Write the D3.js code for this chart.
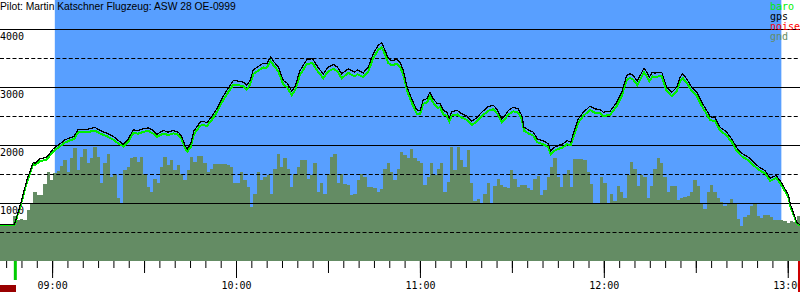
<!DOCTYPE html>
<html><head><meta charset="utf-8">
<script src="https://cdn.jsdelivr.net/npm/d3@7"></script>
<style>body{margin:0;background:#fff}svg{display:block}</style>
</head><body><svg id="c" width="800" height="300"></svg>
<script>
const title = "Pilot: Martin Katschner Flugzeug: ASW 28 OE-0999";
const legendNames = ["baro", "gps", "noise", "gnd"];
const legendColors = ["#00ee00", "#000000", "#ff0000", "#648c64"];
const yLabelTicks = [1000, 2000, 3000, 4000];
const yDashedTicks = [500, 1500, 2500, 3500];
const viewRange = ["08:43:00", "13:04:00"];
const taskWindow = ["09:00:53", "12:57:55"];
const takeoffTime = "08:48:00";
const landingTime = "13:03:50";
const noiseIntervals = [["08:43:00", "08:48:13"]];

const flightTimes = [
"08:43:00","08:47:44","08:49:45","08:51:43","08:53:52","08:54:25","08:56:03","08:58:14","09:00:23","09:02:35",
"09:04:13","09:05:50","09:07:08","09:08:33","09:11:17","09:13:59","09:15:38","09:17:49","09:19:58","09:21:36",
"09:23:14","09:24:52","09:26:29","09:28:07","09:29:45","09:31:23","09:33:01","09:34:08","09:36:17","09:37:55",
"09:39:32","09:41:10","09:42:17","09:43:22","09:44:07","09:45:13","09:46:18","09:47:11","09:48:15","09:49:20",
"09:50:26","09:52:04","09:53:42","09:55:20","09:56:58","09:59:07","10:00:45","10:02:23","10:03:29","10:04:34",
"10:05:38","10:07:16","10:08:55","10:10:01","10:11:19","10:12:24","10:13:48","10:15:26","10:16:44","10:18:10",
"10:19:15","10:20:53","10:23:04","10:24:53","10:26:51","10:28:29","10:30:07","10:31:45","10:33:03","10:34:29",
"10:36:38","10:38:49","10:39:34","10:41:32","10:43:10","10:44:48","10:46:26","10:47:32","10:48:37","10:49:41",
"10:50:48","10:52:26","10:53:30","10:54:35","10:55:53","10:57:19","10:58:57","11:00:02","11:01:06","11:02:13",
"11:03:17","11:04:22","11:05:41","11:06:34","11:07:38","11:08:44","11:09:35","11:10:22","11:12:12","11:13:38",
"11:15:16","11:16:54","11:18:32","11:20:10","11:22:19","11:23:57","11:25:15","11:26:41","11:27:46","11:28:50",
"11:30:28","11:32:06","11:33:13","11:33:58","11:35:22","11:37:00","11:38:18","11:40:16","11:41:53","11:42:40",
"11:43:45","11:45:09","11:46:47","11:47:53","11:49:12","11:50:03","11:51:41","11:53:19","11:55:30","11:57:08",
"11:58:46","11:59:50","12:02:01","12:04:13","12:05:50","12:07:28","12:08:33","12:09:37","12:10:56","12:12:02",
"12:13:07","12:14:00","12:14:51","12:15:49","12:16:42","12:17:47","12:18:53","12:20:31","12:22:09","12:23:47",
"12:24:52","12:25:44","12:27:02","12:28:41","12:30:19","12:31:56","12:33:34","12:34:39","12:36:17","12:37:55",
"12:40:06","12:41:44","12:43:22","12:44:59","12:47:08","12:48:46","12:50:44","12:52:35","12:54:13","12:56:11",
"12:57:29","12:58:47","13:00:11","13:00:59","13:01:50","13:02:56","13:04:00"];

const gpsAlt = [
638,638,1000,1397,1712,1690,1770,1798,1943,2029,
2098,2133,2155,2281,2276,2315,2259,2212,2155,2086,
2017,2115,2270,2259,2287,2304,2259,2190,2259,2230,
2259,2230,2155,2000,1943,2029,2259,2316,2400,2420,
2390,2500,2632,2805,2948,3121,3110,3092,3034,3121,
3305,3362,3419,3410,3529,3440,3354,3121,3075,2936,
3017,3293,3477,3500,3339,3236,3354,3397,3354,3236,
3322,3265,3305,3253,3354,3586,3729,3769,3643,3500,
3460,3483,3436,3293,2995,2805,2615,2603,2788,2805,
2919,2805,2719,2730,2603,2575,2477,2586,2603,2546,
2512,2420,2477,2575,2672,2695,2615,2460,2517,2603,
2660,2632,2517,2316,2270,2230,2115,2080,2029,1902,
1966,2000,2029,2086,2057,2202,2460,2575,2678,2632,
2621,2575,2592,2747,2919,3207,3236,3207,3109,3225,
3333,3265,3179,3265,3248,3265,3265,3006,2919,3006,
3179,3236,3150,3006,2919,2747,2603,2500,2477,2316,
2230,2115,1960,1868,1799,1713,1626,1569,1437,1483,
1397,1282,1155,966,850,678,633];

const baroAlt = [
632,632,970,1360,1680,1660,1730,1755,1900,1990,
2050,2090,2110,2230,2225,2260,2205,2160,2100,2035,
1985,2060,2215,2205,2235,2250,2205,2150,2205,2180,
2210,2185,2110,1950,1890,1975,2200,2260,2340,2360,
2330,2440,2570,2740,2880,3050,3040,3020,2960,3050,
3235,3290,3345,3340,3455,3370,3280,3050,3000,2870,
2950,3220,3400,3425,3265,3160,3280,3320,3280,3160,
3250,3190,3230,3180,3280,3510,3650,3690,3570,3420,
3385,3405,3360,3220,2930,2740,2550,2540,2720,2735,
2845,2735,2650,2660,2535,2510,2410,2515,2535,2480,
2445,2355,2410,2505,2600,2625,2545,2395,2450,2535,
2590,2565,2450,2255,2210,2170,2055,2020,1970,1845,
1905,1940,1970,2025,2000,2140,2395,2510,2610,2565,
2555,2510,2525,2680,2850,3135,3165,3135,3040,3155,
3260,3195,3105,3190,3175,3190,3190,2940,2850,2935,
3110,3165,3080,2940,2855,2685,2540,2440,2420,2260,
2170,2060,1905,1815,1745,1660,1575,1520,1390,1440,
1355,1240,1115,930,815,660,620];

const gndStart = "08:43:00";
const gndStepSec = 65.25;
const gndAlt = [
620,620,620,620,793,720,740,724,880,1000, 1200,1138,1138,1340,1540,1400,1520,1560,1650,1747,
1546,1776,1965,1575,1805,1948,1690,1776,1977,1805, 1345,1690,1862,1460,1500,1100,1011,1575,1632,1776,
1805,1718,1805,1517,1287,1201,1431,1345,1632,1805, 1661,1747,1575,1661,1517,1402,1575,1805,1718,1816,
1816,1690,1546,1600,1678,1678,1678,1678,1660,1632, 1345,1345,1546,1402,1287,943,1172,1546,1400,1450,
1500,1172,1600,1850,1632,1776,1603,1287,1517,1621, 1747,1747,1431,1500,1700,1200,1345,1172,1517,1805,
1851,1345,1506,1333,1316,1150,1172,1402,1517,1460, 1287,1287,1259,1200,1250,1600,1700,1550,1400,1600,
1891,1830,1776,1948,1776,1733,1690,1316,1450,1700, 1500,1600,1700,1200,1374,1977,1575,1977,1747,1632,
1920,1350,1050,1080,1000,1172,1345,1000,1299,1431, 1316,1287,1259,1575,1431,1287,1316,1316,1260,1230,
1431,1471,1150,1230,1460,1632,1776,1460,1287,1517, 1575,1287,1764,1764,1764,1750,1550,1333,1011,1011,
1460,1345,1000,1172,1050,1300,1200,1100,1500,1720, 1600,1300,1500,1450,1100,1300,1600,1780,1700,1450,
1200,1300,1300,1060,1100,1110,1130,1200,1400,1300, 1000,900,1200,1320,1200,1100,1030,960,1000,1070,
1000,740,620,770,810,950,1000,780,750,800, 800,760,710,710,710,700,670,700,680,780];

const parse = d3.timeParse("%H:%M:%S");
const svg = d3.select("#c");
const W = 800, plotBottom = 261;

const x = d3.scaleTime().domain(viewRange.map(parse)).range([0, W]);
const y = d3.scaleLinear().domain([0, 4500]).range([261.5, 0.5]);

// task window background
svg.append("rect")
  .attr("x", x(parse(taskWindow[0]))).attr("y", 0)
  .attr("width", x(parse(taskWindow[1])) - x(parse(taskWindow[0])))
  .attr("height", plotBottom).attr("fill", "#589fff");

// ground
const g0 = parse(gndStart).getTime();
const gndData = gndAlt.map((v, i) => ({t: new Date(g0 + i * gndStepSec * 1000), v}));
gndData.push({t: new Date(g0 + gndAlt.length * gndStepSec * 1000), v: gndAlt[gndAlt.length - 1]});
svg.append("path").datum(gndData)
  .attr("d", d3.area().curve(d3.curveStepAfter).x(d => x(d.t)).y0(plotBottom).y1(d => y(d.v)))
  .attr("fill", "#648c64").attr("shape-rendering", "crispEdges");

// grid
svg.append("g").selectAll("line").data(yLabelTicks).join("line")
  .attr("x1", 0).attr("x2", W).attr("y1", d => y(d)).attr("y2", d => y(d))
  .attr("stroke", "#000").attr("stroke-width", 1);
svg.append("g").selectAll("line").data(yDashedTicks).join("line")
  .attr("x1", 0).attr("x2", W).attr("y1", d => y(d)).attr("y2", d => y(d))
  .attr("stroke", "#000").attr("stroke-width", 1).attr("stroke-dasharray", "4,2.25");

// y labels
svg.append("g").selectAll("text").data(yLabelTicks).join("text")
  .attr("x", 0).attr("y", d => y(d) + 10)
  .attr("font-family", "DejaVu Sans Mono").attr("font-size", "10px")
  .text(d => d);

// altitude lines
const flight = flightTimes.map(parse);
const line = d3.line().x(d => x(d[0])).y(d => y(d[1]));
svg.append("path").datum(flight.map((t, i) => [t, baroAlt[i]]))
  .attr("d", line).attr("fill", "none").attr("stroke", "#00ee00").attr("stroke-width", 2)
  .attr("shape-rendering", "crispEdges");
svg.append("path").datum(flight.map((t, i) => [t, gpsAlt[i]]))
  .attr("d", line).attr("fill", "none").attr("stroke", "#000").attr("stroke-width", 1.2)
  .attr("shape-rendering", "crispEdges");

// time axes
function axisG(interval, size, fmt) {
  const g = svg.append("g").attr("transform", `translate(0,${plotBottom})`)
    .call(d3.axisBottom(x).ticks(interval).tickSize(size).tickFormat(fmt || ""));
  g.select(".domain").remove();
  return g;
}
axisG(d3.timeMinute.every(5), 7);
axisG(d3.timeMinute.every(30), 12);
const hg = axisG(d3.timeHour.every(1), 17, d3.timeFormat("%H:%M"));
hg.selectAll("text").attr("font-family", "DejaVu Sans Mono").attr("font-size", "10px")
  .attr("fill", "#000").attr("y", 20.5);

// takeoff / landing markers and noise
svg.append("rect").attr("x", x(parse(takeoffTime)) - 1.5).attr("y", plotBottom)
  .attr("width", 3).attr("height", 19).attr("fill", "#00cc00");
svg.append("rect").attr("x", x(parse(landingTime)) - 1.5).attr("y", plotBottom)
  .attr("width", 3).attr("height", 31).attr("fill", "#cc0000");
svg.append("g").selectAll("rect").data(noiseIntervals).join("rect")
  .attr("x", d => x(parse(d[0]))).attr("width", d => x(parse(d[1])) - x(parse(d[0])))
  .attr("y", 285).attr("height", 7).attr("fill", "#990000");

// title
svg.append("text").attr("x", 0).attr("y", 10)
  .attr("font-family", "Liberation Sans").attr("font-size", "10.3px").text(title);

// legend
svg.append("g").selectAll("text").data(legendNames).join("text")
  .attr("x", 770).attr("y", (d, i) => 10 + i * 10)
  .attr("font-family", "DejaVu Sans Mono").attr("font-size", "10px")
  .attr("fill", (d, i) => legendColors[i]).text(d => d);
</script></body></html>
